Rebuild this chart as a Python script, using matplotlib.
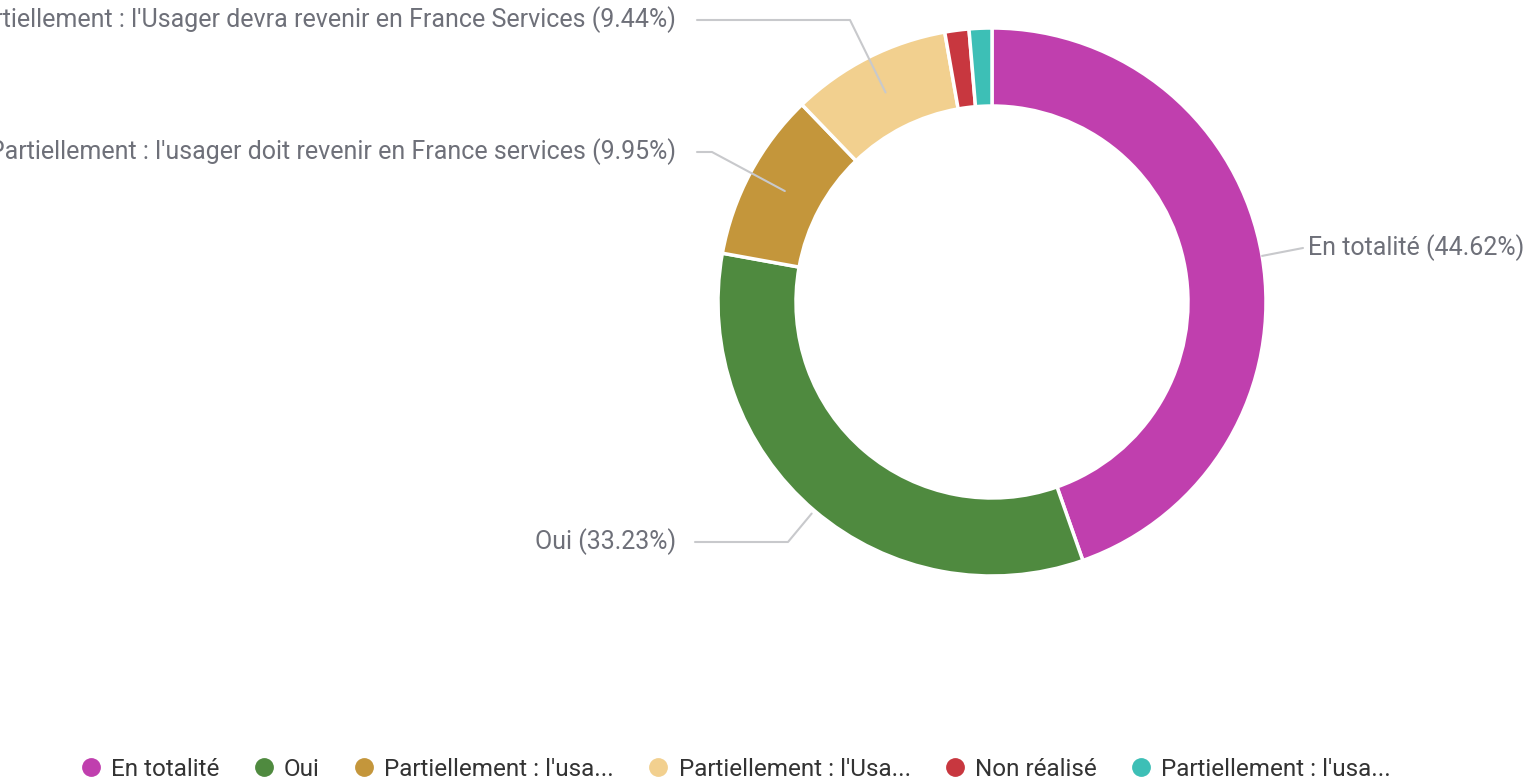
import numpy as np
import matplotlib
matplotlib.use("Agg")
import matplotlib.pyplot as plt
from matplotlib.lines import Line2D

# slice data (clockwise from 12 o'clock)
labels = ["En totalité", "Oui",
          "Partiellement : l'usager doit revenir en France services",
          "Partiellement : l'Usager devra revenir en France Services",
          "Non réalisé",
          "Partiellement : l'usager a été réorienté"]
values = [44.62, 33.23, 9.95, 9.44, 1.42, 1.34]
legend_labels = ["En totalité", "Oui", "Partiellement : l'usa...",
                 "Partiellement : l'Usa...", "Non réalisé", "Partiellement : l'usa..."]
colors = ["#c03fae", "#4f8a3f", "#c4963b", "#f2d08f", "#c8373f", "#3dbfb6"]

W, H = 1528, 784
fig = plt.figure(figsize=(W / 100, H / 100), dpi=100)
ax = fig.add_axes([0, 0, 1, 1])

cx, cy = 992, H - 302
R, ring = 274, 78
wedges, _ = ax.pie(values, colors=colors, startangle=90, counterclock=False,
                   radius=R, center=(cx, cy), frame=True,
                   wedgeprops=dict(width=ring, edgecolor="white", linewidth=2.5))
ax.set_xlim(0, W)
ax.set_ylim(0, H)
ax.set_aspect("equal")
ax.axis("off")

txt_color = "#6e7079"
line_color = "#c8c9cc"
fs = 18

def mid_point(i, r):
    w = wedges[i]
    a = np.deg2rad((w.theta1 + w.theta2) / 2)
    return cx + r * np.cos(a), cy + r * np.sin(a)

# label lines: (slice index, start radius, bend point, end point, text x, ha)
# the two long labels run off the left edge, as in the original panel
label_specs = [
    (0, 274, (1303, H - 248), (1303, H - 248), 1308, "left"),
    (1, 278, (788, H - 542), (695, H - 542), 676, "right"),
    (2, 235, (712, H - 152), (697, H - 152), 676, "right"),
    (3, 235, (850, H - 20), (697, H - 20), 676, "right"),
]
for i, r, bend, end, tx, ha in label_specs:
    sx, sy = mid_point(i, r)
    ax.plot([sx, bend[0], end[0]], [sy, bend[1], end[1]], color=line_color, lw=1.5,
            zorder=5, solid_capstyle="round")
    ax.text(tx, end[1], f"{labels[i]} ({values[i]:.2f}%)", ha=ha, va="center",
            fontsize=fs, color=txt_color, family="Roboto", zorder=6)

handles = [Line2D([], [], marker="o", linestyle="none", markersize=12.5,
                  markerfacecolor=c, markeredgecolor=c) for c in colors]
ax.legend(handles, legend_labels, loc="center", bbox_to_anchor=(0.481, 0.019),
          ncol=6, frameon=False, handlelength=1.0, handletextpad=0.33,
          columnspacing=1.32, prop={"family": "Roboto", "size": 17.5},
          labelcolor="#333333")

fig.savefig("out.png", dpi=100)
